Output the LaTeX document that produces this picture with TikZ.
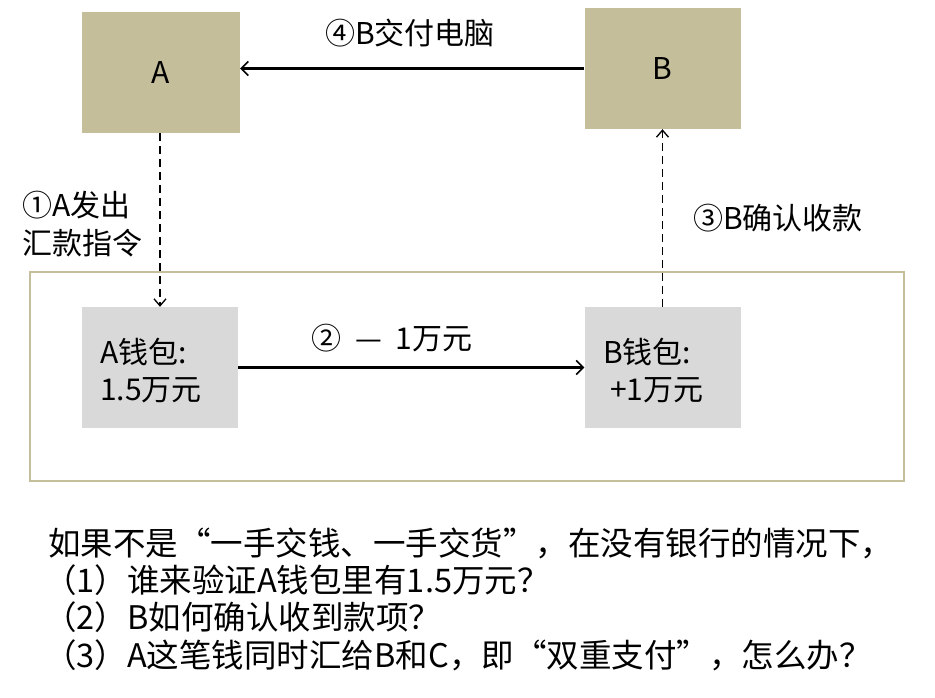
\documentclass[tikz,border=0pt]{standalone}
\usepackage{fontspec}
\setmainfont{Noto Sans CJK SC}
\usetikzlibrary{arrows.meta}
\definecolor{khaki}{RGB}{196,190,155}
\definecolor{wallet}{RGB}{217,217,217}
\tikzset{
  bigbox/.style={fill=khaki, draw=none, minimum width=158pt, minimum height=121pt, inner sep=0pt, font=\fontsize{30}{34}\selectfont},
  walletbox/.style={fill=wallet, draw=none, minimum width=156pt, minimum height=121pt, inner sep=0pt},
  lbl/.style={font=\fontsize{30}{38}\selectfont, inner sep=0pt},
  body/.style={font=\fontsize{32.5}{37}\selectfont, inner sep=0pt, anchor=west},
  solidarrow/.style={line width=2.2pt, -{Straight Barb[length=7pt,width=14pt,line width=1.6pt]}},
  dasharrow/.style={line width=1.6pt, dash pattern=on 8pt off 5pt, -{Straight Barb[length=7pt,width=12pt,line width=1.3pt]}}
}
\begin{document}
\begin{tikzpicture}[x=1pt,y=-1pt]
\useasboundingbox[fill=white] (0,0) rectangle (935,698);
% outer frame
\node[draw=khaki, line width=2pt, minimum width=874pt, minimum height=209pt, inner sep=0pt] (frame) at (467,376.5) {};
% boxes
\node[bigbox] (A) at (161,72.5) {A};
\node[bigbox, minimum width=156pt] (B) at (662.5,68.5) {B};
\node[walletbox] (Aw) at (160,367.5) {};
\node[walletbox] (Bw) at (662.5,367.5) {};
\node[lbl, anchor=west] (Awt) at (100,352) {A钱包:};
\node[lbl, anchor=west] (Awv) at (100,390) {1.5万元};
\node[lbl, anchor=west] (Bwt) at (603,352) {B钱包:};
\node[lbl, anchor=west] (Bwv) at (610,390) {+1万元};
% connectors
\draw[solidarrow] (B.west) -- (B.west -| A.east);
\draw[solidarrow] (Aw.east) -- (Bw.west);
\draw[dasharrow] (A.south -| Aw.north) -- (Aw.north);
\draw[dasharrow] (Bw.north) -- (B.south);
% labels
\node[lbl] (l4) at (410,33) {④B交付电脑};
\node[lbl] (l2) at (392,338) {②\ \ —\ \ 1万元};
\node[lbl, anchor=west] (l3) at (693,218) {③B确认收款};
\node[lbl, anchor=west] (l1a) at (22,205) {①A发出};
\node[lbl, anchor=west] (l1b) at (22,243) {汇款指令};
% bottom text
\node[body] (t1) at (48,543) {如果不是“一手交钱、一手交货”，在没有银行的情况下，};
\node[body] (t2) at (44,580) {（1）谁来验证A钱包里有1.5万元？};
\node[body] (t3) at (44,617) {（2）B如何确认收到款项？};
\node[body] (t4) at (44,655) {（3）A这笔钱同时汇给B和C，即“双重支付”，怎么办？};
\end{tikzpicture}
\end{document}
